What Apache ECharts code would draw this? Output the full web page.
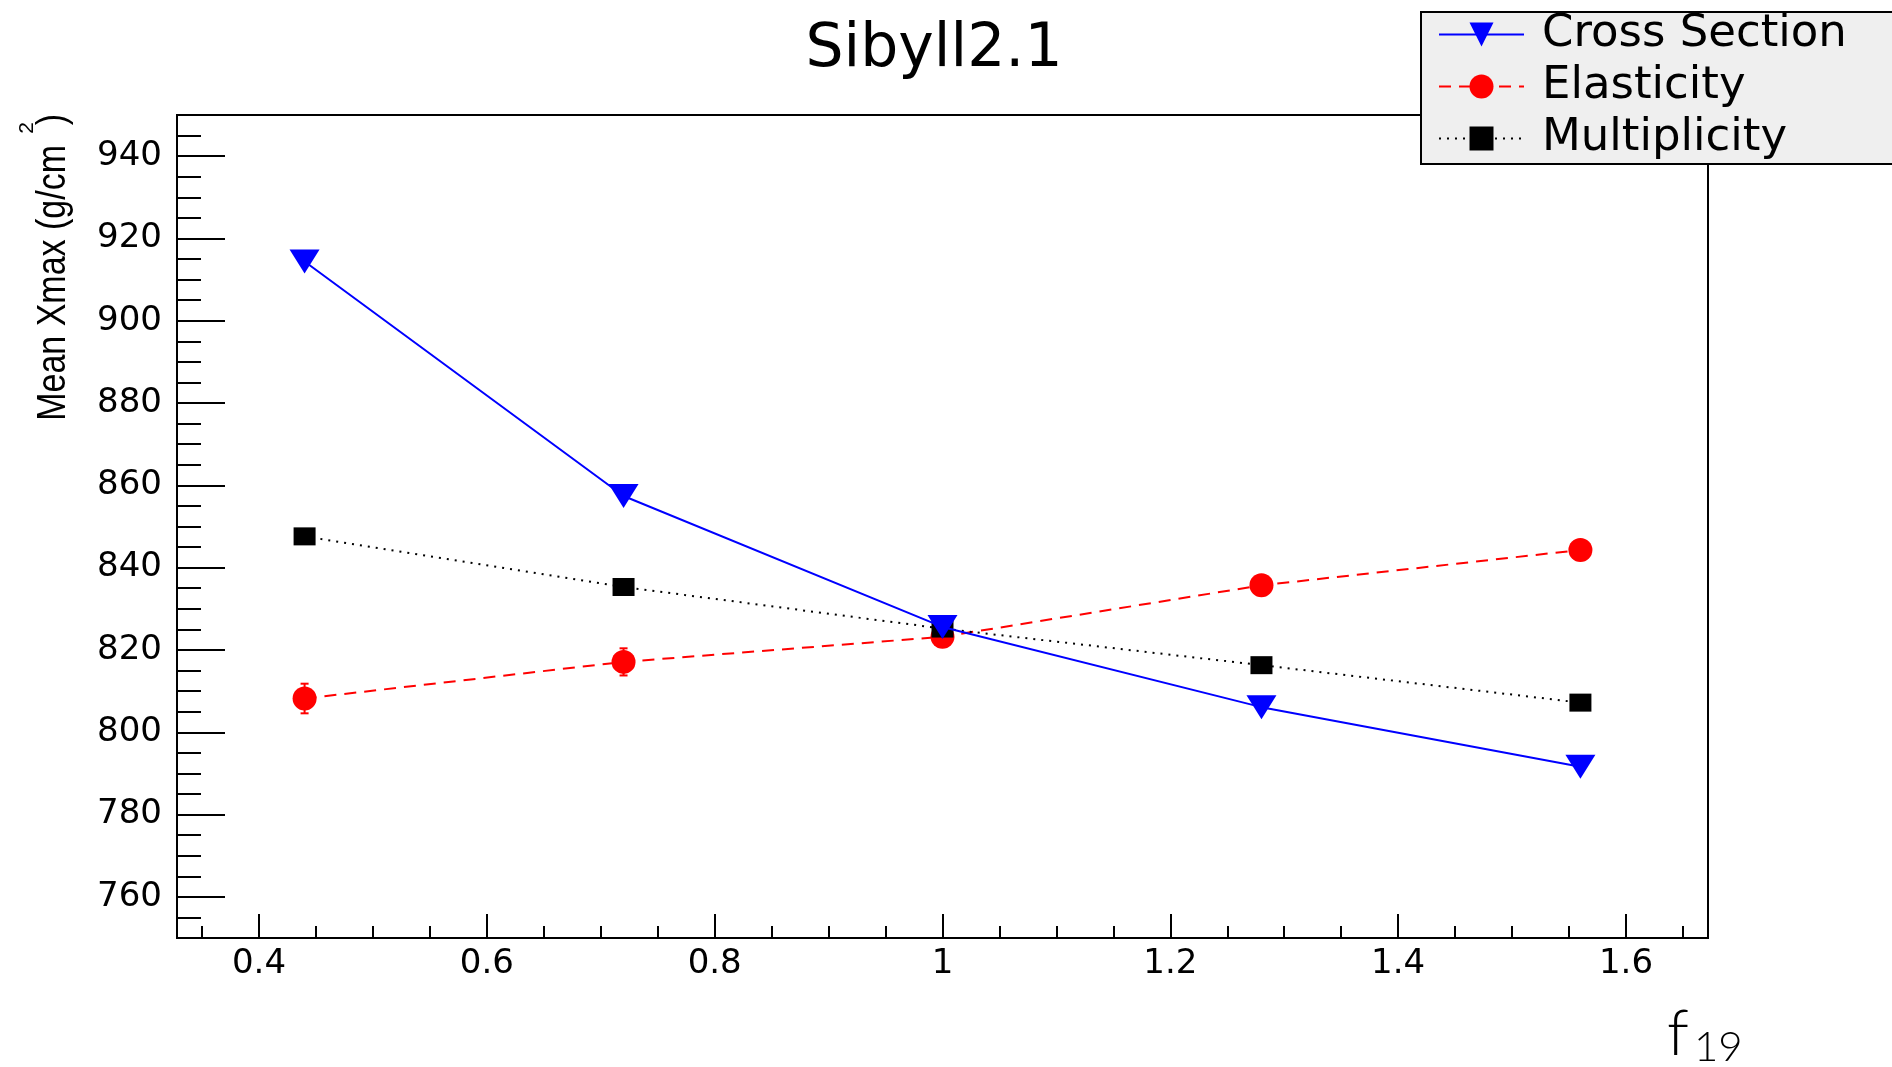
<!DOCTYPE html>
<html>
<head>
<meta charset="utf-8">
<style>
  html, body { margin: 0; padding: 0; background: #fff; }
  #chart { width: 1892px; height: 1067px; }
</style>
<script src="https://cdn.jsdelivr.net/npm/echarts@6/dist/echarts.min.js"></script>
</head>
<body>
<div id="chart"></div>
<script>
  // f19 values on the x axis
  const fValues = [0.44, 0.72, 1.0, 1.28, 1.56]
  // mean Xmax (g/cm2) for each modified parameter
  const crossSection = [914.4, 857.4, 825.6, 806.1, 791.6]
  const elasticity = [808.2, 817.1, 823.2, 835.7, 844.3]
  const elasticityErr = [3.6, 3.3, 1.5, 1.5, 1.5]
  const multiplicity = [847.6, 835.3, 825.2, 816.3, 807.2]

  const xTickLabels = [0.4, 0.6, 0.8, 1, 1.2, 1.4, 1.6]
  const yTickLabels = [760, 780, 800, 820, 840, 860, 880, 900, 920, 940]
  const xRange = [0.328, 1.672]
  const yRange = [750, 950]

  // minor ticks (root style: 4 subdivisions between labels)
  const xMinorTicks = []
  for (let k = 7; k <= 33; k++) {
    if (k % 4 !== 0) xMinorTicks.push(+(k * 0.05).toFixed(2))
  }
  const yMinorTicks = []
  for (let v = 755; v <= 945; v += 5) {
    if (v % 20 !== 0) yMinorTicks.push(v)
  }

  const black = '#000'
  const tickFont = 'DejaVu Sans'
  const thinFont = "'Lato Light', Lato, 'Open Sans'"

  function majorAxis (range, ticks, tickLen, labelMargin) {
    return {
      type: 'value',
      min: range[0],
      max: range[1],
      axisLine: { show: true, lineStyle: { color: black, width: 2 } },
      axisTick: { show: true, inside: true, length: tickLen, customValues: ticks, lineStyle: { color: black, width: 2 } },
      axisLabel: { show: true, customValues: ticks, margin: labelMargin, color: black, fontSize: 34, fontFamily: tickFont },
      splitLine: { show: false }
    }
  }
  function minorAxis (range, ticks, tickLen) {
    return {
      type: 'value',
      min: range[0],
      max: range[1],
      axisLine: { show: false },
      axisTick: { show: true, inside: true, length: tickLen, customValues: ticks, lineStyle: { color: black, width: 2 } },
      axisLabel: { show: false },
      splitLine: { show: false }
    }
  }

  const chart = echarts.init(document.getElementById('chart'))
  chart.setOption({
    animation: false,
    backgroundColor: '#fff',
    grid: {
      left: 177,
      top: 115,
      width: 1531,
      height: 823,
      show: true,
      borderColor: black,
      borderWidth: 2,
      backgroundColor: 'transparent'
    },
    xAxis: [
      Object.assign(majorAxis(xRange, xTickLabels, 24, 9), { position: 'bottom' }),
      Object.assign(minorAxis(xRange, xMinorTicks, 12), { position: 'bottom' })
    ],
    yAxis: [
      Object.assign(majorAxis(yRange, yTickLabels, 48, 15), { position: 'left' }),
      Object.assign(minorAxis(yRange, yMinorTicks, 24), { position: 'left' })
    ],
    legend: {
      data: ['Cross Section', 'Elasticity', 'Multiplicity'],
      orient: 'vertical',
      left: 1438,
      top: 12,
      padding: 0,
      itemWidth: 85,
      itemHeight: 30,
      itemGap: 7,
      selectedMode: false,
      z: 20,
      textStyle: { fontSize: 45, lineHeight: 40, fontFamily: tickFont, color: black, padding: [0, 0, 0, 13] }
    },
    graphic: [
      {
        type: 'rect',
        z: 10,
        shape: { x: 1421, y: 12, width: 490, height: 152 },
        style: { fill: '#efefef', stroke: black, lineWidth: 2 }
      },
      {
        type: 'text',
        x: 934,
        y: 50,
        style: { text: 'Sibyll2.1', fontSize: 60, fontFamily: tickFont, fill: black, align: 'center', verticalAlign: 'middle' }
      },
      // y axis title, root style: rotated, with raised exponent
      {
        type: 'group',
        children: [
          {
            type: 'text',
            x: 54,
            y: 145,
            rotation: Math.PI / 2,
            scaleY: 1.18,
            style: { text: 'Mean Xmax (g/cm', fontSize: 34, fontFamily: 'Liberation Sans', fill: black, align: 'right', verticalAlign: 'middle' }
          },
          {
            type: 'text',
            x: 27,
            y: 122,
            rotation: Math.PI / 2,
            style: { text: '2', fontSize: 21, fontFamily: 'Liberation Sans', fill: black, align: 'right', verticalAlign: 'middle' }
          },
          {
            type: 'text',
            x: 54,
            y: 114,
            rotation: Math.PI / 2,
            scaleY: 1.18,
            style: { text: ')', fontSize: 34, fontFamily: 'Liberation Sans', fill: black, align: 'right', verticalAlign: 'middle' }
          }
        ]
      },
      // x axis title f19
      {
        type: 'group',
        children: [
          {
            type: 'text',
            x: 1667,
            y: 1034,
            style: { text: 'f', fontSize: 64, fontWeight: 300, fontFamily: thinFont, fill: black, align: 'left', verticalAlign: 'middle' }
          },
          {
            type: 'text',
            x: 1694,
            y: 1047,
            style: { text: '19', fontSize: 42, fontWeight: 300, fontFamily: thinFont, fill: black, align: 'left', verticalAlign: 'middle' }
          }
        ]
      }
    ],
    series: [
      {
        name: 'Cross Section',
        type: 'line',
        data: fValues.map((x, i) => [x, crossSection[i]]),
        symbol: 'triangle',
        symbolRotate: 180,
        symbolSize: [30, 24],
        itemStyle: { color: '#0000ff' },
        lineStyle: { color: '#0000ff', width: 2, type: 'solid' },
        emphasis: { disabled: true },
        z: 5
      },
      {
        name: 'Elasticity',
        type: 'line',
        data: fValues.map((x, i) => [x, elasticity[i]]),
        symbol: 'circle',
        symbolSize: 24,
        itemStyle: { color: '#ff0000' },
        lineStyle: { color: '#ff0000', width: 2, type: [12, 8] },
        emphasis: { disabled: true },
        z: 3
      },
      {
        name: 'Elasticity error',
        type: 'custom',
        data: fValues.map((x, i) => [x, elasticity[i] - elasticityErr[i], elasticity[i] + elasticityErr[i]]),
        renderItem: function (params, api) {
          const lo = api.coord([api.value(0), api.value(1)])
          const hi = api.coord([api.value(0), api.value(2)])
          const cap = 4
          const st = { stroke: '#ff0000', lineWidth: 2 }
          return {
            type: 'group',
            children: [
              { type: 'line', shape: { x1: lo[0], y1: lo[1], x2: hi[0], y2: hi[1] }, style: st },
              { type: 'line', shape: { x1: lo[0] - cap, y1: lo[1], x2: lo[0] + cap, y2: lo[1] }, style: st },
              { type: 'line', shape: { x1: hi[0] - cap, y1: hi[1], x2: hi[0] + cap, y2: hi[1] }, style: st }
            ]
          }
        },
        z: 3
      },
      {
        name: 'Multiplicity',
        type: 'line',
        data: fValues.map((x, i) => [x, multiplicity[i]]),
        symbol: 'rect',
        symbolSize: [22, 18],
        itemStyle: { color: black },
        lineStyle: { color: black, width: 2, type: [2, 6] },
        emphasis: { disabled: true },
        z: 4
      }
    ]
  })
</script>
</body>
</html>
